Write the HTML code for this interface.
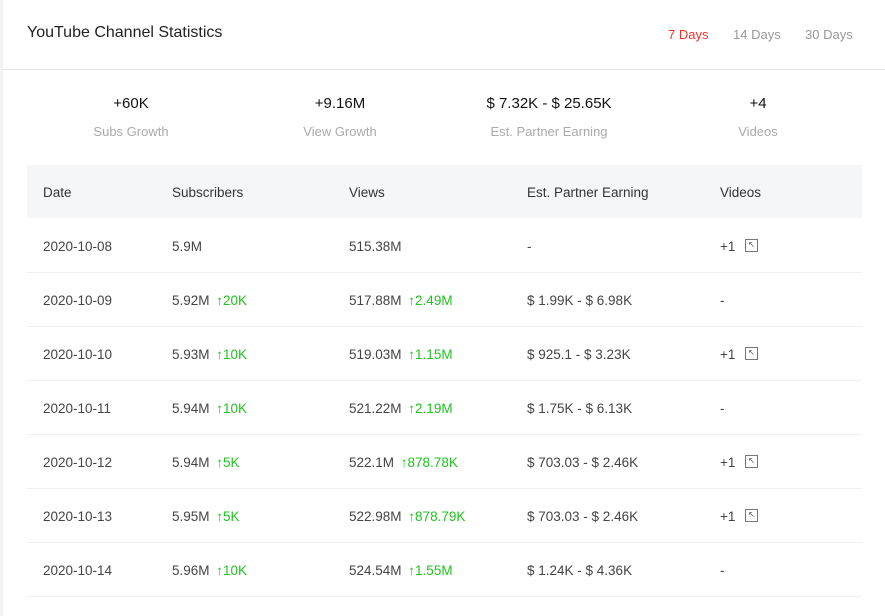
<!DOCTYPE html>
<html><head><style>
body{margin:0;width:885px;height:616px;background:#fff;font-family:"Liberation Sans",sans-serif;position:relative;overflow:hidden}
.lb{position:absolute;left:0;top:0;width:3px;height:616px;background:#f3f3f3}
.t{position:absolute;white-space:nowrap}
.hd{position:absolute;left:3px;right:0;top:69px;height:1px;background:#e6e6e6}
.num{font-size:15px;color:#111;transform:translateX(-50%)}
.lbl{font-size:13px;color:#aaa;transform:translateX(-50%)}
.th{position:absolute;left:27px;top:165px;width:835px;height:53px;background:#f5f6f8}
.c{font-size:13.5px;color:#444}
.g{color:#1fc31f}
.g b{font-weight:bold;margin-left:3px}
.row{position:absolute;left:27px;width:835px;height:1px;background:#f0f0f0}
.ic{position:absolute;width:11px;height:11px;border:1.5px solid #777;font-size:8px;line-height:10px;text-align:center;color:#444}
</style></head><body>
<div class="lb"></div>
<div class="t" style="left:27px;top:24px;font-size:16px;color:#222">YouTube Channel Statistics</div>
<div class="t" style="left:668px;top:27px;font-size:13px;color:#f0332d">7 Days</div>
<div class="t" style="left:733px;top:27px;font-size:13px;color:#999">14 Days</div>
<div class="t" style="left:805px;top:27px;font-size:13px;color:#999">30 Days</div>
<div class="hd"></div>
<div class="t num" style="left:131px;top:95px">+60K</div>
<div class="t num" style="left:340px;top:95px">+9.16M</div>
<div class="t num" style="left:549px;top:95px">$ 7.32K - $ 25.65K</div>
<div class="t num" style="left:758px;top:95px">+4</div>
<div class="t lbl" style="left:131px;top:124px">Subs Growth</div>
<div class="t lbl" style="left:340px;top:124px">View Growth</div>
<div class="t lbl" style="left:549px;top:124px">Est. Partner Earning</div>
<div class="t lbl" style="left:758px;top:124px">Videos</div>
<div class="th"></div>
<div class="t c" style="left:43px;top:185px;color:#333">Date</div>
<div class="t c" style="left:172px;top:185px;color:#333">Subscribers</div>
<div class="t c" style="left:349px;top:185px;color:#333">Views</div>
<div class="t c" style="left:527px;top:185px;color:#333">Est. Partner Earning</div>
<div class="t c" style="left:720px;top:185px;color:#333">Videos</div>

<div class="t c" style="left:43px;top:239px">2020-10-08</div><div class="t c" style="left:172px;top:239px">5.9M</div><div class="t c" style="left:349px;top:239px">515.38M</div><div class="t c" style="left:527px;top:239px">-</div><div class="t c" style="left:720px;top:239px">+1</div><div class="ic" style="left:745px;top:239px">↖</div>
<div class="row" style="top:272px"></div>
<div class="t c" style="left:43px;top:293px">2020-10-09</div><div class="t c" style="left:172px;top:293px">5.92M <span class="g"><b>↑</b>20K</span></div><div class="t c" style="left:349px;top:293px">517.88M <span class="g"><b>↑</b>2.49M</span></div><div class="t c" style="left:527px;top:293px">$ 1.99K - $ 6.98K</div><div class="t c" style="left:720px;top:293px">-</div>
<div class="row" style="top:326px"></div>
<div class="t c" style="left:43px;top:347px">2020-10-10</div><div class="t c" style="left:172px;top:347px">5.93M <span class="g"><b>↑</b>10K</span></div><div class="t c" style="left:349px;top:347px">519.03M <span class="g"><b>↑</b>1.15M</span></div><div class="t c" style="left:527px;top:347px">$ 925.1 - $ 3.23K</div><div class="t c" style="left:720px;top:347px">+1</div><div class="ic" style="left:745px;top:347px">↖</div>
<div class="row" style="top:380px"></div>
<div class="t c" style="left:43px;top:401px">2020-10-11</div><div class="t c" style="left:172px;top:401px">5.94M <span class="g"><b>↑</b>10K</span></div><div class="t c" style="left:349px;top:401px">521.22M <span class="g"><b>↑</b>2.19M</span></div><div class="t c" style="left:527px;top:401px">$ 1.75K - $ 6.13K</div><div class="t c" style="left:720px;top:401px">-</div>
<div class="row" style="top:434px"></div>
<div class="t c" style="left:43px;top:455px">2020-10-12</div><div class="t c" style="left:172px;top:455px">5.94M <span class="g"><b>↑</b>5K</span></div><div class="t c" style="left:349px;top:455px">522.1M <span class="g"><b>↑</b>878.78K</span></div><div class="t c" style="left:527px;top:455px">$ 703.03 - $ 2.46K</div><div class="t c" style="left:720px;top:455px">+1</div><div class="ic" style="left:745px;top:455px">↖</div>
<div class="row" style="top:488px"></div>
<div class="t c" style="left:43px;top:509px">2020-10-13</div><div class="t c" style="left:172px;top:509px">5.95M <span class="g"><b>↑</b>5K</span></div><div class="t c" style="left:349px;top:509px">522.98M <span class="g"><b>↑</b>878.79K</span></div><div class="t c" style="left:527px;top:509px">$ 703.03 - $ 2.46K</div><div class="t c" style="left:720px;top:509px">+1</div><div class="ic" style="left:745px;top:509px">↖</div>
<div class="row" style="top:542px"></div>
<div class="t c" style="left:43px;top:563px">2020-10-14</div><div class="t c" style="left:172px;top:563px">5.96M <span class="g"><b>↑</b>10K</span></div><div class="t c" style="left:349px;top:563px">524.54M <span class="g"><b>↑</b>1.55M</span></div><div class="t c" style="left:527px;top:563px">$ 1.24K - $ 4.36K</div><div class="t c" style="left:720px;top:563px">-</div>
<div class="row" style="top:596px"></div>
</body></html>
